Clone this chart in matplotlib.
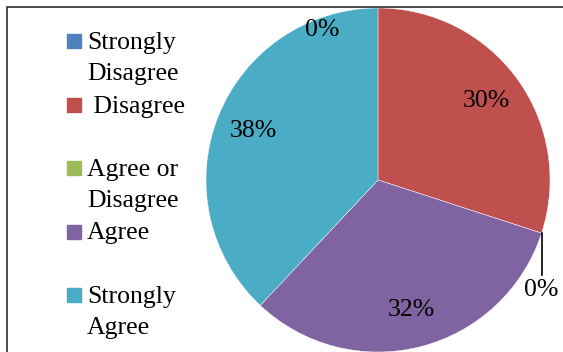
import matplotlib.pyplot as plt
import matplotlib.patches as mpatches
import numpy as np

# survey answers (percent)
labels = ["Strongly\nDisagree", " Disagree", "Agree or\nDisagree", "Agree", "Strongly\nAgree"]
values = [0, 30, 0, 32, 38]
colors = ["#4F81BD", "#C0504D", "#9BBB59", "#8064A2", "#4BACC6"]

W, H = 563, 352
FS = 18.5
plt.rcParams['font.family'] = ['Liberation Serif', 'DejaVu Serif']
fig = plt.figure(figsize=(W / 100, H / 100), dpi=100)
ax = fig.add_axes([0, 0, 1, 1])

# pie centre at (378, 180) px, radius 172 px
cx, cy, r = 378, 180, 172
wedges, texts, autotexts = ax.pie(values, colors=colors, startangle=90, counterclock=False,
                                  autopct=lambda p: '%.0f%%' % p if p > 0.5 else '',
                                  pctdistance=0.78, radius=1,
                                  wedgeprops=dict(edgecolor='white', linewidth=0.3),
                                  textprops=dict(fontsize=FS, color='black'))
ax.set_xlim(-cx / r, (W - cx) / r)
ax.set_ylim((cy - H) / r, cy / r)
ax.set_aspect('auto')
ax.axis('off')

# the zero slices get their labels outside
ax.text(-0.326, 0.872, '%d%%' % values[0], ha='center', va='center', fontsize=FS)
t = np.deg2rad(wedges[2].theta1)
ex, ey = np.cos(t), np.sin(t)
ax.plot([ex, ex], [ey, -0.55], color='black', lw=1.2)
ax.text(ex, -0.64, '%d%%' % values[2], ha='center', va='center', fontsize=FS)

# legend on the left
base = 49
step = 63.5
for i, (lab, col) in enumerate(zip(labels, colors)):
    yb = base + i * step
    fig.add_artist(mpatches.Rectangle((67 / W, 1 - (yb - 1) / H), 14 / W, 14 / H,
                                      transform=fig.transFigure, color=col))
    for k, line in enumerate(lab.split('\n')):
        fig.text(87 / W, 1 - (yb + k * 31) / H, line, fontsize=FS, va='baseline', ha='left')

# frame around the chart
fig.add_artist(mpatches.Rectangle((7 / W, -0.1), 1.2, 1 - 7 / H + 0.1, transform=fig.transFigure,
                                  fill=False, edgecolor='#303030', linewidth=1.2))

fig.savefig('out.png', dpi=100)
